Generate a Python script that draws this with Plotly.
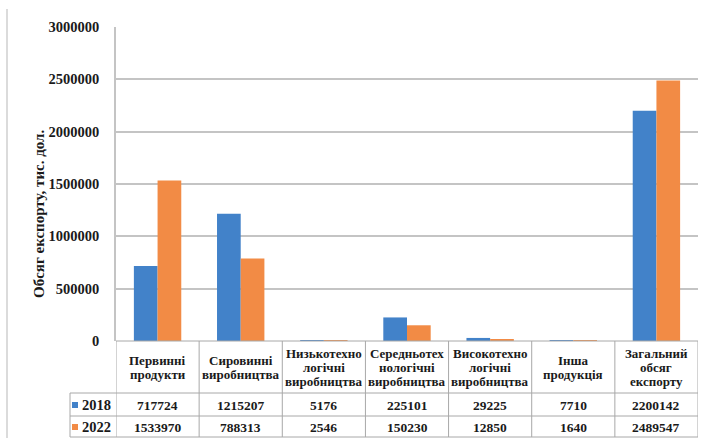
import plotly.graph_objects as go

categories = ["Первинні<br>продукти", "Сировинні<br>виробництва", "Низькотехно<br>логічні<br>виробництва",
              "Середньотех<br>нологічні<br>виробництва", "Високотехно<br>логічні<br>виробництва",
              "Інша<br>продукція", "Загальний<br>обсяг<br>експорту"]
values_2018 = [717724, 1215207, 5176, 225101, 29225, 7710, 2200142]
values_2022 = [1533970, 788313, 2546, 150230, 12850, 1640, 2489547]
series_names = ["2018", "2022"]
y_ticks = [0, 500000, 1000000, 1500000, 2000000, 2500000, 3000000]

BLUE = "#4282c9"
ORANGE = "#f28b45"
SERIF = "Liberation Serif"
GRID = "#c4c4c4"
BORDER = "#a8a8a8"
TXT = "#1a1a1a"

W, H = 708, 438
ML, MR, MT, MB = 116, 10, 27, 97
PW, PH = W - ML - MR, H - MT - MB

def py(p):  # pixel y -> paper y
    return (H - MB - p) / PH

def px(p):  # pixel x -> paper x
    return (p - ML) / PW

xs = list(range(len(categories)))
fig = go.Figure()
fig.add_trace(go.Bar(x=xs, y=values_2018, name=series_names[0], marker_color=BLUE, marker_line_width=0))
fig.add_trace(go.Bar(x=xs, y=values_2022, name=series_names[1], marker_color=ORANGE, marker_line_width=0))

shapes = []
ann = []
bottom = py(437)
row1_top = py(393)
row2_top = py(416)
# vertical table lines
for i in range(len(categories) + 1):
    shapes.append(dict(type="line", xref="x", yref="paper", x0=i - 0.5, x1=i - 0.5,
                       y0=0, y1=bottom, line=dict(color=BORDER, width=1)))
shapes.append(dict(type="line", xref="paper", yref="paper", x0=px(70), x1=px(70),
                   y0=row1_top, y1=bottom, line=dict(color=BORDER, width=1)))
for yy in [row1_top, row2_top, bottom]:
    shapes.append(dict(type="line", xref="paper", yref="paper", x0=px(70), x1=1,
                       y0=yy, y1=yy, line=dict(color=BORDER, width=1)))
shapes.append(dict(type="line", xref="paper", yref="paper", x0=0, x1=1,
                   y0=0, y1=0, line=dict(color=BORDER, width=1)))
# outer chart border (left)
shapes.append(dict(type="line", xref="paper", yref="paper", x0=px(7), x1=px(7),
                   y0=py(9), y1=py(438), line=dict(color="#cfcfcf", width=1.5)))

hdr_center = 367
line_gap = 14
r1_y = py(405)
r2_y = py(427)
for i, c in enumerate(categories):
    lines = c.split("<br>")
    n = len(lines)
    for k, ln in enumerate(lines):
        ypix = hdr_center + (k - (n - 1) / 2) * line_gap
        ann.append(dict(x=i, y=py(ypix), xref="x", yref="paper", text="<b>%s</b>" % ln, showarrow=False,
                        font=dict(family=SERIF, size=13, color=TXT), align="center",
                        xanchor="center", yanchor="middle"))
    ann.append(dict(x=i, y=r1_y, xref="x", yref="paper", text="<b>%d</b>" % values_2018[i], showarrow=False,
                    font=dict(family=SERIF, size=13.5, color=TXT), xanchor="center", yanchor="middle"))
    ann.append(dict(x=i, y=r2_y, xref="x", yref="paper", text="<b>%d</b>" % values_2022[i], showarrow=False,
                    font=dict(family=SERIF, size=13.5, color=TXT), xanchor="center", yanchor="middle"))

# legend keys in table
for yy, col, nm in [(r1_y, BLUE, series_names[0]), (r2_y, ORANGE, series_names[1])]:
    shapes.append(dict(type="rect", xref="paper", yref="paper", x0=px(72), x1=px(78),
                       y0=yy - 3 / PH, y1=yy + 3 / PH, fillcolor=col, line=dict(width=0)))
    ann.append(dict(x=px(96), y=yy, xref="paper", yref="paper", text="<b>%s</b>" % nm, showarrow=False,
                    font=dict(family=SERIF, size=14.5, color=TXT), xanchor="center", yanchor="middle"))

ann.append(dict(x=px(39), y=py(214), xref="paper", yref="paper", text="<b>Обсяг експорту, тис. дол.</b>",
                showarrow=False, textangle=-90, xanchor="center", yanchor="middle",
                font=dict(family=SERIF, size=15, color=TXT)))

fig.update_layout(
    width=W, height=H, margin=dict(l=ML, r=MR, t=MT, b=MB),
    paper_bgcolor="white", plot_bgcolor="white",
    barmode="group", bargap=0.43, bargroupgap=0,
    showlegend=False,
    xaxis=dict(range=[-0.5, len(categories) - 0.5], showticklabels=False, showgrid=False,
               zeroline=False, showline=False, fixedrange=True),
    yaxis=dict(range=[0, 3000000], tickvals=y_ticks, ticktext=["<b>%d</b>" % v for v in y_ticks],
               tickfont=dict(family=SERIF, size=14.5, color=TXT),
               showgrid=True, gridcolor=GRID, gridwidth=1.5, zeroline=False,
               showline=True, linecolor=GRID, linewidth=1.5, ticklabelstandoff=12),
    shapes=shapes, annotations=ann,
)
fig.write_html("out.html", config={"displayModeBar": False},
               post_script="document.body.style.margin='0';document.body.style.overflow='hidden';")
